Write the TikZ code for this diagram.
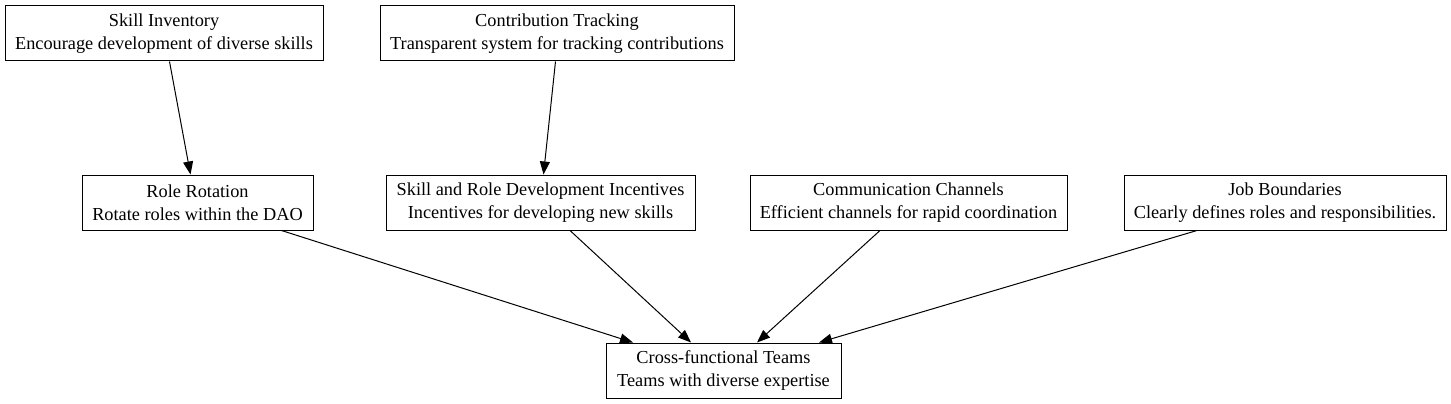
\documentclass[tikz,border=0pt]{standalone}
\usepackage{fontspec}
\setmainfont{Liberation Serif}
\usetikzlibrary{arrows.meta}
\tikzset{
  box/.style={draw, line width=1pt, rectangle, minimum height=55, inner sep=0pt,
    align=center, font=\fontsize{18.3}{23}\selectfont},
  link/.style={line width=1pt, -{Triangle[length=13pt,width=10pt]}}
}
\begin{document}
\begin{tikzpicture}[x=1pt,y=-1pt]
\useasboundingbox (0,0) rectangle (1451,404);
\node[box, minimum width=318] (ski) at (164,33.5) {Skill Inventory\\Encourage development of diverse skills};
\node[box, minimum width=354] (con) at (557,33.5) {Contribution Tracking\\Transparent system for tracking contributions};
\node[box, minimum width=231] (rot) at (197.5,202.5) {Role Rotation\\Rotate roles within the DAO};
\node[box, minimum width=309] (inc) at (540.5,202.5) {Skill and Role Development Incentives\\Incentives for developing new skills};
\node[box, minimum width=317] (com) at (908.5,202.5) {Communication Channels\\Efficient channels for rapid coordination};
\node[box, minimum width=322] (job) at (1285,202.5) {Job Boundaries\\Clearly defines roles and responsibilities.};
\node[box, minimum width=235] (cft) at (723.5,370.5) {Cross-functional Teams\\Teams with diverse expertise};
\draw[link] ([xshift=5.5]ski.south) -- ([xshift=-7]rot.north);
\draw[link] ([xshift=-1.5]con.south) -- ([xshift=3]inc.north);
\draw[link] ([xshift=84]rot.south) -- ([xshift=-90.5]cft.north);
\draw[link] ([xshift=29.5]inc.south) -- ([xshift=-32.5]cft.north);
\draw[link] ([xshift=-28.5]com.south) -- ([xshift=33.5]cft.north);
\draw[link] ([xshift=-88]job.south) -- ([xshift=95.5]cft.north);
\end{tikzpicture}
\end{document}
